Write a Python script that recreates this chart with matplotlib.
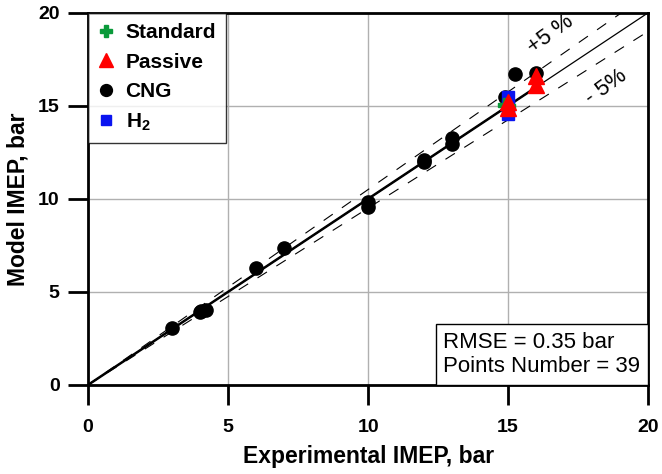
import matplotlib
matplotlib.use("Agg")
import matplotlib.pyplot as plt
from matplotlib.offsetbox import AnchoredText
import numpy as np

plt.rcParams['font.family'] = ['Liberation Sans', 'DejaVu Sans']
plt.rcParams['mathtext.fontset'] = 'custom'
plt.rcParams['mathtext.rm'] = 'Liberation Sans'
plt.rcParams['mathtext.bf'] = 'Liberation Sans:bold'
plt.rcParams['xtick.bottom'] = True
plt.rcParams['ytick.left'] = True
plt.rcParams['xtick.direction'] = 'out'
plt.rcParams['ytick.direction'] = 'out'
plt.rcParams['xtick.major.size'] = 14.4
plt.rcParams['ytick.major.size'] = 14.4
plt.rcParams['xtick.major.width'] = 2.0
plt.rcParams['ytick.major.width'] = 2.0
plt.rcParams['xtick.color'] = 'black'
plt.rcParams['ytick.color'] = 'black'
plt.rcParams['xtick.major.pad'] = 10
plt.rcParams['ytick.major.pad'] = 6
plt.rcParams['xtick.labelsize'] = 14
plt.rcParams['ytick.labelsize'] = 14

# Data (experimental IMEP, model IMEP) in bar
cng_x = [3.0, 4.0, 4.05, 4.2, 6.0, 7.0, 10.0, 10.0, 12.0, 12.0, 13.0, 13.0, 14.9, 15.25, 16.0]
cng_y = [3.05, 3.9, 3.95, 4.0, 6.3, 7.35, 9.85, 9.55, 12.0, 12.1, 13.25, 12.95, 15.5, 16.7, 16.75]
std_x = [14.9, 15.0]
std_y = [15.05, 15.0]
pas_x = [15.0, 15.0, 16.0, 16.0]
pas_y = [15.2, 14.9, 16.6, 16.1]
h2_x = [15.0, 15.0, 15.0]
h2_y = [15.45, 15.0, 14.55]
series_names = ['Standard', 'Passive', 'CNG', r'$\mathbf{H_2}$']

fig = plt.figure(figsize=(6.62, 4.74), dpi=100)
ax = fig.add_axes([0.133, 0.188, 0.846, 0.785])
ax.set_xlim(0, 20)
ax.set_ylim(0, 20)
ax.set_xticks([0, 5, 10, 15, 20])
ax.set_yticks([0, 5, 10, 15, 20])
ax.grid(True, color='#b0b0b0', lw=1.0)
ax.set_axisbelow(True)

xx = np.array([-2, 22])
ax.plot(xx, xx, color='black', lw=0.9, zorder=2)
ax.plot([0, 16], [0, 16], color='black', lw=1.8, zorder=2)
ax.plot(xx, 1.05 * xx, color='black', lw=0.8, dashes=(10, 10), zorder=2)
ax.plot(xx, 0.95 * xx, color='black', lw=0.8, dashes=(10, 10), zorder=2)

h_cng, = ax.plot(cng_x, cng_y, 'o', color='black', ms=9.5, ls='none', zorder=3)
h_h2, = ax.plot(h2_x, h2_y, 's', color='#0a14f0', ms=8.5, ls='none', zorder=4)
h_std, = ax.plot(std_x, std_y, 'P', color='#0a9a3a', ms=10, ls='none', zorder=5)
h_pas, = ax.plot(pas_x, pas_y, '^', color='#ff0000', ms=11, ls='none', zorder=6)

leg = ax.legend([h_std, h_pas, h_cng, h_h2], series_names,
                loc='upper left', frameon=True, fancybox=False, edgecolor='black',
                borderaxespad=0.0, prop={'size': 15, 'weight': 'bold'},
                handletextpad=0.6, handlelength=0.7, borderpad=0.5, labelspacing=0.5,
                markerscale=0.9)
leg.get_frame().set_linewidth(1.0)

at = AnchoredText('RMSE = 0.35 bar\nPoints Number = 39', loc='lower right',
                  prop=dict(size=16, linespacing=1.2), frameon=True, borderpad=0.0, pad=0.35)
at.patch.set_boxstyle('square,pad=0')
at.patch.set_edgecolor('black')
at.patch.set_linewidth(1.0)
at.zorder = 7
ax.add_artist(at)

ax.text(16.5, 18.85, '+5 %', rotation=36, fontsize=16, ha='center', va='center')
ax.text(18.5, 16.0, '- 5%', rotation=36, fontsize=16, ha='center', va='center')

for s in ax.spines.values():
    s.set_linewidth(2.0)
ax.tick_params(bottom=True, left=True, direction='out', length=14.4, width=2, color='black')
for lbl in ax.get_xticklabels() + ax.get_yticklabels():
    lbl.set_fontweight('bold')

ax.set_xlabel('Experimental IMEP, bar', fontsize=16.5, fontweight='bold', labelpad=7)
ax.set_ylabel('Model IMEP, bar', fontsize=16.5, fontweight='bold', labelpad=6)

fig.savefig('out.png', dpi=100)
